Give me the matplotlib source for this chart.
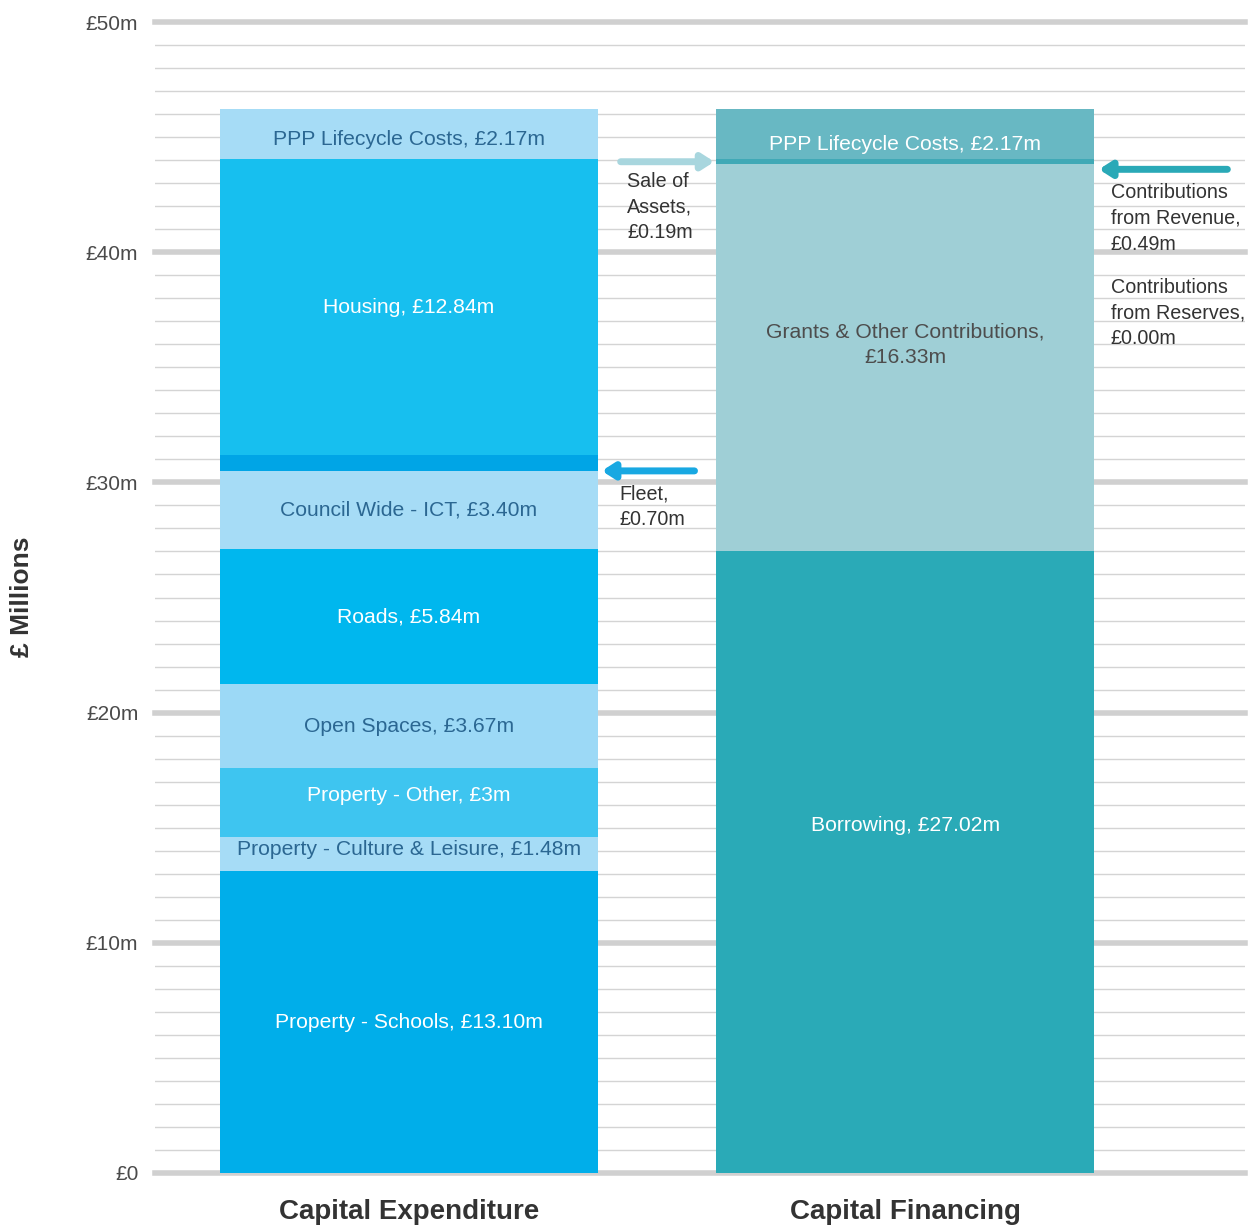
import matplotlib.pyplot as plt
import numpy as np

plt.rcParams['font.family'] = ['Liberation Sans', 'DejaVu Sans']

# Gasto de capital (de abajo hacia arriba)
gasto_nombres = ['Property - Schools, £13.10m', 'Property - Culture & Leisure, £1.48m',
                 'Property - Other, £3m', 'Open Spaces, £3.67m', 'Roads, £5.84m',
                 'Council Wide - ICT, £3.40m', 'Fleet', 'Housing, £12.84m',
                 'PPP Lifecycle Costs, £2.17m']
gasto_valores = [13.10, 1.48, 3.00, 3.67, 5.84, 3.40, 0.70, 12.84, 2.17]
gasto_colores = ['#00aeea', '#a6dcf6', '#3ec5f0', '#9cd9f6', '#00b7ee',
                 '#a6dcf6', '#00a5e6', '#17bfef', '#a6dcf6']
gasto_texto = ['white', '#2b6792', 'white', '#2b6792', 'white',
               '#2b6792', None, 'white', '#2b6792']

# Financiacion de capital (de abajo hacia arriba)
fin_nombres = ['Borrowing, £27.02m', 'Grants & Other Contributions,\n£16.33m',
               'Contributions from Revenue', 'Contributions from Reserves',
               'Sale of Assets', 'PPP Lifecycle Costs, £2.17m']
fin_valores = [27.02, 16.33, 0.49, 0.00, 0.19, 2.17]
fin_colores = ['#2aaab7', '#9fcfd6', '#9fcfd6', '#4bb1bd', '#40a9b6', '#68b8c3']
fin_texto = ['white', '#4d4d4d', None, None, None, 'white']

categorias = ['Capital Expenditure', 'Capital Financing']
ticks_y = [0, 10, 20, 30, 40, 50]
ticks_txt = ['£0', '£10m', '£20m', '£30m', '£40m', '£50m']

fig = plt.figure(figsize=(12.53, 12.25), dpi=100)
ax = fig.add_axes([155 / 1253, 1 - 1173 / 1225, 1090 / 1253, 1151 / 1225])
ax.set_xlim(-0.512, 1.685)
ax.set_ylim(0, 50)

# lineas de la cuadricula
for v in np.arange(1, 50):
    if v % 10:
        ax.axhline(v, color='#d4d4d4', lw=1, zorder=0)
for v in ticks_y:
    ax.axhline(v, color='#d0d0d0', lw=4, zorder=0, clip_on=False)

ancho = 0.762

def apilar(x, valores, colores, nombres, texto, ajuste={}):
    base = 0
    for i, (v, c, n, t) in enumerate(zip(valores, colores, nombres, texto)):
        if v > 0:
            ax.bar(x, v, bottom=base, width=ancho, color=c, zorder=2)
        if t is not None:
            ax.text(x, base + v / 2 + ajuste.get(i, 0), n, ha='center', va='center',
                    color=t, fontsize=15.2, zorder=3, linespacing=1.45)
        base += v

apilar(0, gasto_valores, gasto_colores, gasto_nombres, gasto_texto,
       {1: 0.2, 2: 0.3, 8: -0.2})
apilar(1, fin_valores, fin_colores, fin_nombres, fin_texto, {0: 1.6, 1: 0.8, 5: -0.45})

# flechas
flecha = dict(arrowstyle='-|>,head_length=0.7,head_width=0.45', lw=5)
ax.annotate('', xy=(0.621, 43.93), xytext=(0.421, 43.93),
            arrowprops=dict(flecha, color='#a8d6de'), zorder=4)
ax.annotate('', xy=(0.383, 30.5), xytext=(0.581, 30.5),
            arrowprops=dict(flecha, color='#18a8e2'), zorder=4)
ax.annotate('', xy=(1.385, 43.6), xytext=(1.655, 43.6),
            arrowprops=dict(flecha, color='#2aa9b7'), zorder=4)

nota = dict(ha='left', va='top', color='#333333', fontsize=14.2, linespacing=1.45, zorder=4)
ax.text(0.44, 43.5, 'Sale of\nAssets,\n£0.19m', **nota)
ax.text(0.425, 29.9, 'Fleet,\n£0.70m', **nota)
ax.text(1.414, 43.0, 'Contributions\nfrom Revenue,\n£0.49m', **nota)
ax.text(1.414, 38.9, 'Contributions\nfrom Reserves,\n£0.00m', **nota)

ax.set_yticks(ticks_y)
ax.set_yticklabels(ticks_txt, fontsize=15, color='#4a4a4a')
ax.tick_params(axis='y', length=0, pad=12)
ax.set_xticks([0, 1])
ax.set_xticklabels(categorias, fontsize=20, fontweight='bold', color='#333333')
ax.tick_params(axis='x', length=0, pad=19)
for s in ax.spines.values():
    s.set_visible(False)

fig.text(22 / 1253, 1 - 597 / 1225, '£ Millions', rotation=90, ha='center', va='center',
         fontsize=19, fontweight='bold', color='#333333')

fig.savefig('out.png', dpi=100)
